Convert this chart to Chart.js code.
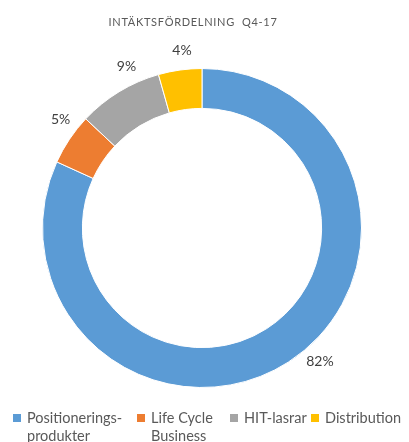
<!DOCTYPE html>
<html><head><meta charset="utf-8">
<script src="https://cdn.jsdelivr.net/npm/chart.js@4"></script>
<style>html,body{margin:0;padding:0;background:#fff;}canvas{display:block;}</style>
</head><body>
<canvas id="c" width="409" height="442"></canvas>
<script>
const title = "INTÄKTSFÖRDELNING  Q4-17";
const categories = [["Positionerings-", "produkter"], ["Life Cycle", "Business"], ["HIT-lasrar"], ["Distribution"]];
const values = [81.8, 5.2, 8.6, 4.4];
const colors = ["#5B9BD5", "#ED7D31", "#A5A5A5", "#FFC000"];
// label placement tweaks (degrees clockwise) and legend column starts (layout only)
const labelNudgeDeg = [-8.6, 3.8, 6.3, 1.5];
const legendColumnsX = [13, 137, 230, 311];

const overlay = {
  id: 'overlay',
  afterDraw(chart) {
    const ctx = chart.ctx;
    ctx.save();
    // title
    ctx.fillStyle = '#595959';
    ctx.font = '11px Lato';
    ctx.letterSpacing = '0.7px';
    ctx.textAlign = 'center';
    ctx.textBaseline = 'middle';
    ctx.fillText(title, 193, 22);
    ctx.letterSpacing = '0px';
    // data labels
    const meta = chart.getDatasetMeta(0);
    ctx.font = '14px Lato';
    ctx.fillStyle = '#404040';
    meta.data.forEach((arc, i) => {
      const p = arc.getProps(['x', 'y', 'startAngle', 'endAngle', 'outerRadius'], true);
      const mid = (p.startAngle + p.endAngle) / 2 + labelNudgeDeg[i] * Math.PI / 180;
      const r = p.outerRadius + 19;
      const txt = Math.round(values[i]) + '%';
      ctx.fillText(txt, p.x + Math.cos(mid) * r, p.y + Math.sin(mid) * r);
    });
    // legend
    ctx.textAlign = 'left';
    ctx.font = '14.5px Lato';
    categories.forEach((lines, i) => {
      const x0 = legendColumnsX[i];
      ctx.fillStyle = colors[i];
      ctx.fillRect(x0, 414, 8, 8);
      ctx.fillStyle = '#595959';
      lines.forEach((ln, j) => ctx.fillText(ln, x0 + 14, 418 + j * 18));
    });
    ctx.restore();
  }
};

new Chart(document.getElementById('c'), {
  type: 'doughnut',
  data: {
    labels: categories.map(l => l.join(' ')),
    datasets: [{
      data: values,
      backgroundColor: colors,
      borderColor: '#ffffff',
      borderWidth: 1
    }]
  },
  options: {
    responsive: false,
    animation: false,
    cutout: '75%',
    layout: { padding: { left: 42, right: 47, top: 68, bottom: 54 } },
    plugins: { legend: { display: false }, tooltip: { enabled: false }, title: { display: false } }
  },
  plugins: [overlay]
});
</script>
</body></html>
